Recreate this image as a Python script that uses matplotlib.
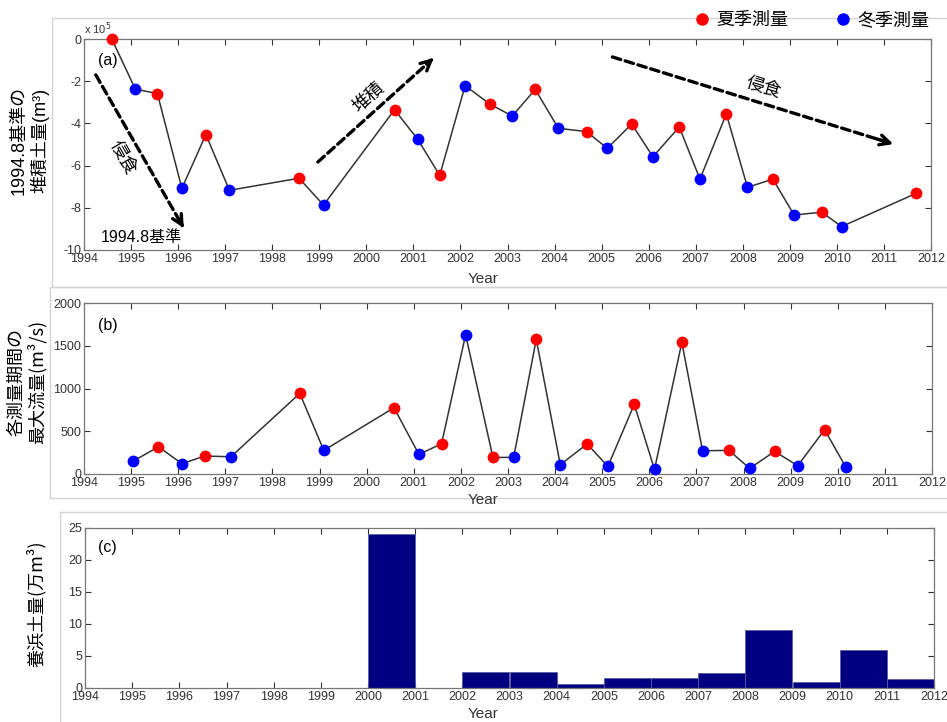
import matplotlib
matplotlib.use("Agg")
import matplotlib.pyplot as plt
from matplotlib.lines import Line2D
from matplotlib.patches import Rectangle

plt.rcParams["font.family"] = ["Liberation Sans", "Noto Sans CJK JP", "DejaVu Sans"]
plt.rcParams["axes.unicode_minus"] = False

# (a) 1994.8 基準の堆積土量 (x 10^5 m3)
years_a = [1994.59, 1995.09, 1995.56, 1996.08, 1996.59, 1997.09, 1998.57, 1999.09,
           2000.60, 2001.09, 2001.56, 2002.10, 2002.62, 2003.10, 2003.59, 2004.08,
           2004.68, 2005.12, 2005.64, 2006.09, 2006.65, 2007.09, 2007.65, 2008.10,
           2008.64, 2009.09, 2009.68, 2010.10, 2011.69]
volume_a = [0.0, -2.37, -2.59, -7.08, -4.53, -7.17, -6.60, -7.87,
            -3.35, -4.75, -6.46, -2.21, -3.08, -3.65, -2.39, -4.23,
            -4.39, -5.18, -4.03, -5.58, -4.17, -6.64, -3.55, -7.03,
            -6.64, -8.34, -8.21, -8.89, -7.31]
season_a = ["s", "w"] * 14 + ["s"]

# (b) 各測量期間の最大流量 (m3/s)
years_b = [1995.05, 1995.58, 1996.08, 1996.56, 1997.12, 1998.58, 1999.09, 2000.58,
           2001.11, 2001.59, 2002.10, 2002.68, 2003.12, 2003.60, 2004.11, 2004.68,
           2005.12, 2005.68, 2006.11, 2006.69, 2007.13, 2007.69, 2008.13, 2008.66,
           2009.15, 2009.72, 2010.17]
flow_b = [152, 319, 120, 210, 202, 943, 276, 775,
          229, 354, 1629, 194, 194, 1575, 109, 351,
          89, 814, 54, 1539, 272, 276, 66, 264,
          97, 518, 82]
season_b = ["w", "s"] * 13 + ["w"]

# (c) 養浜土量 (万m3), one bar per year
years_c = [2000, 2002, 2003, 2004, 2005, 2006, 2007, 2008, 2009, 2010, 2011]
nourish_c = [24.0, 2.45, 2.45, 0.63, 1.5, 1.5, 2.4, 9.1, 1.0, 6.0, 1.4]

year_ticks = list(range(1994, 2013))
season_color = {"s": "#ff0000", "w": "#0000ff"}
jp = ["Noto Sans CJK JP", "DejaVu Sans"]

W, H = 947, 722
fig = plt.figure(figsize=(W / 100, H / 100), dpi=100)


def px_axes(left, right, top, bottom):
    return fig.add_axes([left / W, 1 - bottom / H, (right - left) / W, (bottom - top) / H])


# light panel frames
for l, t, b in [(52, 18, 287), (50, 287, 498), (60, 512, 740)]:
    fig.patches.append(Rectangle((l / W, 1 - b / H), 1.2, (b - t) / H,
                                 transform=fig.transFigure, fill=False,
                                 edgecolor="#d4d4d4", lw=1.0, zorder=0))

ax_a = px_axes(84, 931, 39, 250)
ax_b = px_axes(84, 932, 303, 474)
ax_c = px_axes(85, 934, 528, 688)


def style(ax):
    ax.set_xlim(1994, 2012)
    ax.set_xticks(year_ticks)
    ax.tick_params(direction="in", top=True, right=True, length=4, width=0.8,
                   labelsize=9, colors="#333333", pad=2)
    for sp in ax.spines.values():
        sp.set_color("#777777")
        sp.set_linewidth(0.9)


def season_line(ax, x, y, seasons):
    ax.plot(x, y, color="#333333", lw=1.1, zorder=2, clip_on=False)
    for xi, yi, s in zip(x, y, seasons):
        ax.plot(xi, yi, "o", color=season_color[s], ms=8.5, mec="none",
                zorder=3, clip_on=False)


# ---- (a)
style(ax_a)
season_line(ax_a, years_a, volume_a, season_a)
ax_a.set_ylim(-10, 0)
ax_a.set_yticks(range(-10, 1, 2))
ax_a.text(0.0, 1.01, "x 10$^5$", transform=ax_a.transAxes, fontsize=8, color="#333333",
          va="bottom", ha="left")
ax_a.text(0.017, 0.9, "(a)", transform=ax_a.transAxes, fontsize=11.5, va="center")


def dashed_arrow(ax, start, end):
    ax.annotate("", xy=end, xytext=start,
                arrowprops=dict(arrowstyle="-", lw=2.4, color="black",
                                linestyle=(0, (2.6, 1.4)), shrinkA=0, shrinkB=2))
    back = (end[0] - (end[0] - start[0]) * 0.06, end[1] - (end[1] - start[1]) * 0.06)
    ax.annotate("", xy=end, xytext=back,
                arrowprops=dict(arrowstyle="->", lw=2.4, color="black",
                                mutation_scale=18, shrinkA=0, shrinkB=0))


dashed_arrow(ax_a, (1994.25, -1.7), (1996.12, -8.96))
dashed_arrow(ax_a, (1998.97, -5.83), (2001.43, -0.9))
dashed_arrow(ax_a, (2005.23, -0.85), (2011.2, -4.98))
ax_a.text(1994.83, -5.6, "侵食", rotation=-60, fontsize=13, family=jp, ha="center", va="center")
ax_a.text(2000.05, -2.75, "堆積", rotation=42, fontsize=13, family=jp, ha="center", va="center")
ax_a.text(2008.44, -2.28, "侵食", rotation=-17, fontsize=13, family=jp, ha="center", va="center")
ax_a.text(1995.21, -9.43, "1994.8基準", fontsize=11.5, ha="center", va="center")

# ---- (b)
style(ax_b)
season_line(ax_b, years_b, flow_b, season_b)
ax_b.set_ylim(0, 2000)
ax_b.set_yticks(range(0, 2001, 500))
ax_b.text(0.017, 0.87, "(b)", transform=ax_b.transAxes, fontsize=11.5, va="center")

# ---- (c)
style(ax_c)
ax_c.bar(years_c, nourish_c, width=1.0, align="edge", color="#000080",
         edgecolor="#5c5ca0", lw=0.6, zorder=2)
ax_c.set_ylim(0, 25)
ax_c.set_yticks(range(0, 26, 5))
ax_c.text(0.015, 0.88, "(c)", transform=ax_c.transAxes, fontsize=11.5, va="center")

# axis titles
for yy in (279, 500, 714):
    fig.text(483 / W, 1 - yy / H, "Year", fontsize=11, color="#333333",
             ha="center", va="center")
fig.text(30 / W, 1 - 140 / H, "1994.8基準の\n堆積土量(m³)", rotation=90, fontsize=13,
         ha="center", va="center", multialignment="center", linespacing=1.15)
fig.text(27 / W, 1 - 382 / H, "各測量期間の\n最大流量(m³/s)", rotation=90, fontsize=13,
         family=jp, ha="center", va="center", multialignment="center", linespacing=1.15)
fig.text(36 / W, 1 - 604 / H, "養浜土量(万m³)", rotation=90, fontsize=13,
         family=jp, ha="center", va="center")

# season legend
handles = [Line2D([], [], ls="none", marker="o", ms=9, mec="none", color=season_color["s"]),
           Line2D([], [], ls="none", marker="o", ms=9, mec="none", color=season_color["w"])]
fig.legend(handles, ["夏季測量", "冬季測量"], loc="upper right", ncol=2, frameon=False,
           bbox_to_anchor=(940 / W, 1.0), prop={"family": jp, "size": 13},
           handlelength=0.8, handletextpad=0.4, columnspacing=2.6, borderaxespad=0.2)

fig.savefig("out.png", dpi=100)
